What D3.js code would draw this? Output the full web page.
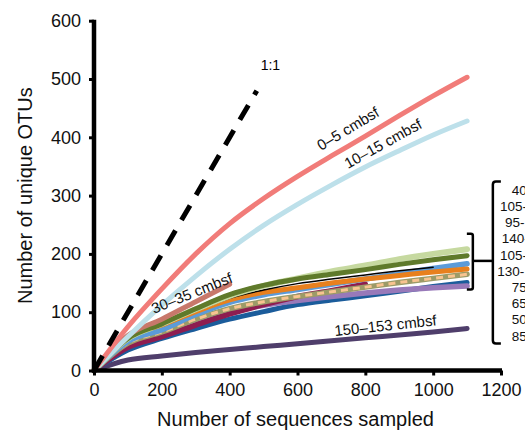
<!DOCTYPE html>
<html>
<head>
<meta charset="utf-8">
<script src="https://cdn.jsdelivr.net/npm/d3@7"></script>
<style>
  body { margin: 0; background: #fff; }
  svg { font-family: "Liberation Sans", Arial, sans-serif; display: block; }
</style>
</head>
<body>
<script>
// Werte (Sequenzen 0, 100, ... 1100)
var seqs = [0, 100, 200, 300, 400, 500, 600, 700, 800, 900, 1000, 1100];

var s0_5     = [0, 75, 140, 200, 252, 295, 333, 368, 402, 437, 471, 503];
var s10_15   = [0, 58, 112, 162, 208, 249, 285, 318, 349, 377, 404, 428];
var s30_35   = [0, 60, 88, 118, 148];
var sLtGreen = [0, 55, 80, 105, 128, 145, 158, 170, 180, 191, 200, 208];
var sOlive   = [0, 55, 80, 106, 130, 146, 157, 165, 173, 182, 190, 197];
var sBlack   = [0, 54, 78, 102, 124, 138, 149, 157, 164, 171, 177];
var sBlue    = [0, 50, 70, 96, 117, 130, 139, 148, 157, 166, 175, 183];
var sOrange  = [0, 57, 78, 101, 121, 134, 142, 150, 157, 163, 169, 174];
var sDashed  = [0, 47, 66, 88, 106, 118, 127, 135, 143, 151, 158, 165];
var sMaroon  = [0, 40, 58, 78, 97, 113, 127, 137, 148];
var sLavender= [0, 44, 62, 82, 100, 112, 120, 127, 133, 138, 142, 145];
var sDkBlue  = [0, 35, 55, 72, 88, 101, 113, 121, 128, 136, 144, 151];
var s150_153 = [0, 18, 25, 31, 36, 41, 46, 51, 56, 61, 66, 72];

var oneToOne = [0, 480]; // 1:1 Linie

var xTicks = [0, 200, 400, 600, 800, 1000, 1200];
var yTicks = [0, 100, 200, 300, 400, 500, 600];

// Beschriftungen der Gruppe rechts (im Original abgeschnitten)
var groupLabels = ["40", "105-", "95-", "140-", "105-", "130-", "75", "65", "50", "85"];
var groupLabelX = [511.7, 500, 505, 501.7, 500, 497.3, 511.7, 511.7, 511.7, 511.7];

///Body Werte definieren
var W = 525, H = 432;
var margin = {top: 20.7, left: 94, right: 24, bottom: 61.5};

var svg = d3.select("body").append("svg")
  .attr("width", W)
  .attr("height", H);

var xScale = d3.scaleLinear().domain([0, 1200]).range([margin.left, W - margin.right]);
var yScale = d3.scaleLinear().domain([0, 600]).range([H - margin.bottom, margin.top]);

// Linie generieren
var line = d3.line()
  .x(function(d, i) { return xScale(seqs[i]); })
  .y(function(d) { return yScale(d); })
  .curve(d3.curveMonotoneX);

function drawSeries(vals, color, w) {
  return svg.append("path")
    .datum(vals)
    .attr("d", line)
    .attr("fill", "none")
    .attr("stroke", color)
    .attr("stroke-width", w)
    .attr("stroke-linecap", "round")
    .attr("stroke-linejoin", "round");
}

// Kurven (Reihenfolge = Zeichenreihenfolge)
drawSeries(s150_153, "#4f3e6b", 5);
drawSeries(sDkBlue, "#1b5c9b", 5);
drawSeries(sLavender, "#9879b9", 5.5);
drawSeries(sMaroon, "#8e1d50", 5.5);
drawSeries(sDashed, "#9c9b68", 5.5);
drawSeries(sDashed, "#f8c490", 3).attr("stroke-dasharray", "7,5").attr("stroke-linecap", "butt");
drawSeries(sBlue, "#5b9bd9", 5.5);
drawSeries(sOrange, "#e8801e", 5);
drawSeries(sBlack, "#000", 1.5);
drawSeries(sLtGreen, "#c6d9a0", 6);
drawSeries(sOlive, "#5f7a2b", 5);
drawSeries(s30_35, "#c8786b", 5);
drawSeries(s10_15, "#bde0ea", 5);
drawSeries(s0_5, "#f17c79", 5);

// 1:1 Linie
svg.append("line")
  .attr("x1", xScale(oneToOne[0])).attr("y1", yScale(oneToOne[0]))
  .attr("x2", xScale(oneToOne[1])).attr("y2", yScale(oneToOne[1]))
  .attr("stroke", "#000")
  .attr("stroke-width", 5)
  .attr("stroke-dasharray", "17,12");

svg.append("text")
  .attr("x", xScale(520)).attr("y", 69.5)
  .attr("text-anchor", "middle")
  .attr("font-size", 14)
  .text("1:1");

// Kurvenbeschriftungen
function curveLabel(txt, x, y, rot) {
  svg.append("text")
    .attr("transform", "translate(" + x + "," + y + ") rotate(" + rot + ")")
    .attr("font-size", 15)
    .attr("fill", "#111")
    .text(txt);
}
curveLabel("0\u20135 cmbsf", 321, 151, -31);
curveLabel("10\u201315 cmbsf", 348, 169, -29);
curveLabel("30\u201335 cmbsf", 154, 314, -22);
curveLabel("150\u2013153 cmbsf", 335, 336, -6);

// Achsen
var xAxis = svg.append("g")
  .attr("transform", "translate(0," + yScale(0) + ")")
  .call(d3.axisBottom(xScale).tickValues(xTicks).tickSize(5).tickPadding(8).tickFormat(d3.format("d")));
var yAxis = svg.append("g")
  .attr("transform", "translate(" + xScale(0) + ",0)")
  .call(d3.axisLeft(yScale).tickValues(yTicks).tickSize(5).tickPadding(8).tickFormat(d3.format("d")));

[xAxis, yAxis].forEach(function(a) {
  a.select(".domain").attr("stroke-width", 4.5).attr("d", null);
  a.selectAll(".tick line").attr("stroke-width", 3);
  a.selectAll(".tick text").attr("font-size", 18).attr("fill", "#111")
    .attr("font-family", "'Liberation Sans', Arial, sans-serif");
});
xAxis.select(".domain").remove();
yAxis.select(".domain").remove();
svg.append("line")
  .attr("x1", xScale(0) - 2).attr("x2", xScale(1200) + 1)
  .attr("y1", yScale(0)).attr("y2", yScale(0))
  .attr("stroke", "#000").attr("stroke-width", 4.5);
svg.append("line")
  .attr("x1", xScale(0)).attr("x2", xScale(0))
  .attr("y1", yScale(0) + 2).attr("y2", yScale(600) - 1)
  .attr("stroke", "#000").attr("stroke-width", 4.5);

// Achsentitel
svg.append("text")
  .attr("x", (xScale(0) + xScale(1200)) / 2 - 2)
  .attr("y", 426)
  .attr("text-anchor", "middle")
  .attr("font-size", 20)
  .attr("fill", "#111")
  .text("Number of sequences sampled");
svg.append("text")
  .attr("transform", "translate(32," + yScale(300) + ") rotate(-90)")
  .attr("text-anchor", "middle")
  .attr("font-size", 20)
  .attr("fill", "#111")
  .text("Number of unique OTUs");

// Klammern fuer die Gruppe
var bx1 = xScale(1117), bx2 = xScale(1176);
var sTop = yScale(234.5), sBot = yScale(139), mid = yScale(188);
var bTop = yScale(324), bBot = yScale(46.5);
svg.append("path")
  .attr("d", "M" + (bx1 - 6) + "," + sTop + " H" + (bx1 - 2) + " Q" + bx1 + "," + sTop + " " + bx1 + "," + (sTop + 2) +
             " V" + (sBot - 2) + " Q" + bx1 + "," + sBot + " " + (bx1 - 2) + "," + sBot + " H" + (bx1 - 6))
  .attr("fill", "none").attr("stroke", "#000").attr("stroke-width", 2.5);
svg.append("line")
  .attr("x1", bx1).attr("x2", bx2).attr("y1", mid).attr("y2", mid)
  .attr("stroke", "#000").attr("stroke-width", 2.5);
svg.append("path")
  .attr("d", "M" + (bx2 + 8) + "," + bTop + " H" + (bx2 + 3) + " Q" + bx2 + "," + bTop + " " + bx2 + "," + (bTop + 3) +
             " V" + (bBot - 3) + " Q" + bx2 + "," + bBot + " " + (bx2 + 3) + "," + bBot + " H" + (bx2 + 8))
  .attr("fill", "none").attr("stroke", "#000").attr("stroke-width", 2.5);

svg.selectAll(".grp")
  .data(groupLabels)
  .enter().append("text")
  .attr("class", "grp")
  .attr("x", function(d, i) { return groupLabelX[i]; })
  .attr("y", function(d, i) { return 190 + i * 16.2; })
  .attr("dy", "0.35em")
  .attr("font-size", 13.5)
  .attr("fill", "#111")
  .text(function(d) { return d; });
</script>
</body>
</html>
